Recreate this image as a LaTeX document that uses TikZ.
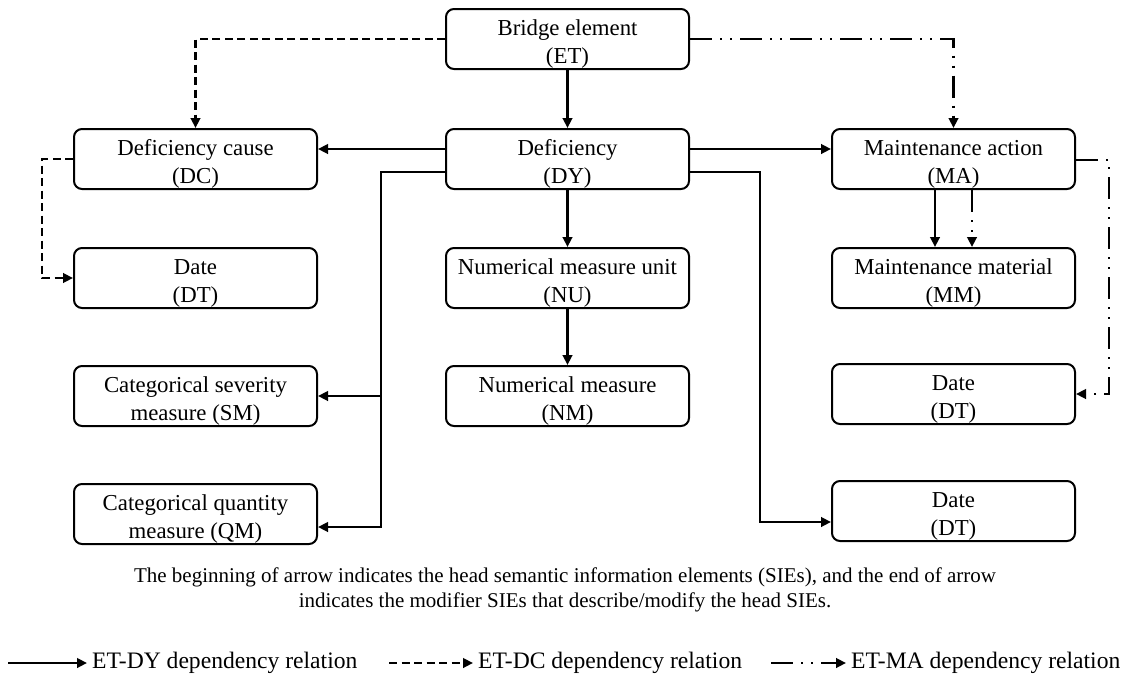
\documentclass[tikz,border=0pt]{standalone}
\usepackage{fontspec}
\setmainfont{Liberation Serif}
\usetikzlibrary{arrows.meta,calc}

% two centred lines, set slightly below the middle of the box
\newcommand\sietext[2]{\raisebox{-5pt}[\height][\depth]{\begin{tabular}{@{}c@{}}#1\\#2\end{tabular}}}

\tikzset{
  sie/.style={draw, line width=2pt, rounded corners=8pt, minimum width=243pt,
    minimum height=60pt, inner sep=1pt,
    font=\fontsize{22.8}{28.5}\selectfont},
  tip/.style={-{Triangle[length=10pt,width=9.5pt]}},
  dep/.style={tip, line width=2.7pt},
  depdc/.style={tip, line width=2.7pt, dash pattern=on 8pt off 4.5pt},
  depma/.style={tip, line width=2.7pt,
    dash pattern=on 22pt off 8pt on 2pt off 8pt on 2pt off 8pt},
  legtext/.style={anchor=west, inner sep=5pt, font=\fontsize{23.6}{27}\selectfont},
  note/.style={align=center, font=\fontsize{21}{25}\selectfont}
}

\begin{document}
\begin{tikzpicture}[x=1pt,y=-1pt]
\useasboundingbox (0,0) rectangle (1130,683);

% semantic information elements
\node[sie] (ET)  at (567.5,39)  {\sietext{Bridge element}{(ET)}};
\node[sie] (DC)  at (195.5,159) {\sietext{Deficiency cause}{(DC)}};
\node[sie] (DY)  at (567.5,159) {\sietext{Deficiency}{(DY)}};
\node[sie] (MA)  at (953.5,159) {\sietext{Maintenance action}{(MA)}};
\node[sie] (DT1) at (195.5,278) {\sietext{Date}{(DT)}};
\node[sie] (NU)  at (567.5,278) {\sietext{Numerical measure unit}{(NU)}};
\node[sie] (MM)  at (953.5,278) {\sietext{Maintenance material}{(MM)}};
\node[sie] (SM)  at (195.5,396) {\sietext{Categorical severity}{measure (SM)}};
\node[sie] (NM)  at (567.5,396) {\sietext{Numerical measure}{(NM)}};
\node[sie] (DT2) at (953.5,394) {\sietext{Date}{(DT)}};
\node[sie] (QM)  at (195.5,514) {\sietext{Categorical quantity}{measure (QM)}};
\node[sie] (DT3) at (953.5,511) {\sietext{Date}{(DT)}};

% ET-DY relations
\draw[dep] (ET) -- (DY);
\draw[dep] (DY) -- (NU);
\draw[dep] (NU) -- (NM);
\draw[dep] ($(DY.west)+(0,-10)$) coordinate (dyl) -- (dyl -| DC.east);
\draw[dep] ($(DY.east)+(0,-10)$) coordinate (dyr) -- (dyr -| MA.west);
\coordinate (lbus) at (381,0);
\coordinate (rbus) at (760,0);
\draw[dep] ($(DY.west)+(0,13)$) coordinate (dyl2) -- (dyl2 -| lbus)
  -- ($(lbus |- QM.east)+(0,13)$) -- ($(QM.east)+(0,13)$);
\draw[dep] (lbus |- SM.east) -- (SM.east);
\draw[dep] ($(DY.east)+(0,13)$) coordinate (dyr2) -- (dyr2 -| rbus)
  -- ($(rbus |- DT3.west)+(0,11)$) -- ($(DT3.west)+(0,11)$);
\draw[dep] ($(MA.south)+(-18.5,0)$) -- ($(MM.north)+(-18.5,0)$);

% ET-DC relations
\draw[depdc] (ET.west) -| (DC.north);
\draw[depdc] (DC.west) -- ++(-31,0) |- (DT1.west);

% ET-MA relations
\draw[depma] (ET.east) -| (MA.north);
\draw[depma] ($(MA.south)+(18.5,0)$) -- ($(MM.north)+(18.5,0)$);
\draw[depma] ($(MA.east)+(0,1)$) -- ++(33,0) |- (DT2.east);

% explanatory note
\node[note] (cap) at (565,590) {The beginning of arrow indicates the head semantic information elements (SIEs), and the end of arrow\\indicates the modifier SIEs that describe/modify the head SIEs.};

% legend
\node[legtext] (lt1) at (87,663)  {ET-DY dependency relation};
\node[legtext] (lt2) at (473,663) {ET-DC dependency relation};
\node[legtext] (lt3) at (846,663) {ET-MA dependency relation};
\coordinate (ls1) at (8,663);
\coordinate (ls2) at (389,663);
\coordinate (ls3) at (771,663);
\draw[dep] (ls1) -- (lt1.west);
\draw[depdc] (ls2) -- (lt2.west);
\draw[depma] (ls3) -- (lt3.west);
\end{tikzpicture}
\end{document}
